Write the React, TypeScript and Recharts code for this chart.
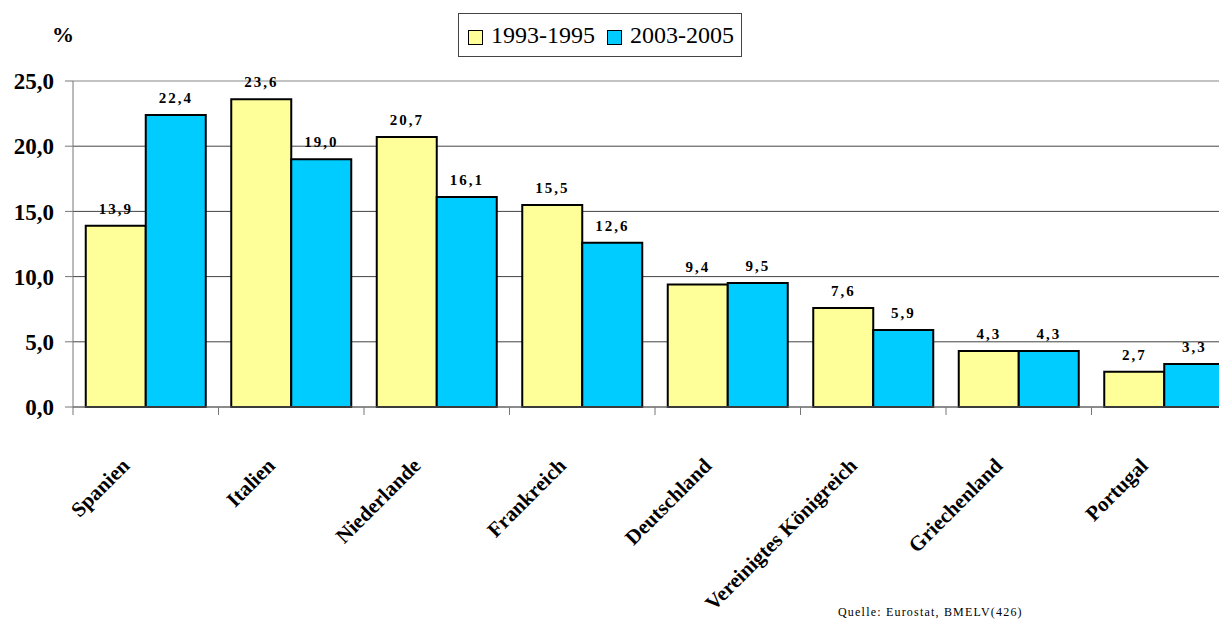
import React from 'react';
import {
  BarChart, Bar, XAxis, YAxis, CartesianGrid, LabelList, ReferenceLine,
} from 'recharts';

const countries = [
  'Spanien', 'Italien', 'Niederlande', 'Frankreich',
  'Deutschland', 'Vereinigtes Königreich', 'Griechenland', 'Portugal',
];
const values1993 = [13.9, 23.6, 20.7, 15.5, 9.4, 7.6, 4.3, 2.7];
const values2003 = [22.4, 19.0, 16.1, 12.6, 9.5, 5.9, 4.3, 3.3];
const yTicks = [0, 5, 10, 15, 20, 25];
const seriesNames = ['1993-1995', '2003-2005'];

const YELLOW = '#FFFF99';
const BLUE = '#00CCFF';
const FONT = '"Liberation Serif", "Times New Roman", serif';

const CHART_W = 1240;
const CHART_H = 619;
const PLOT_LEFT = 73;
const PLOT_RIGHT = 1237;
const BAND = (PLOT_RIGHT - PLOT_LEFT) / countries.length;

const data = countries.map((c, i) => ({ country: c, a: values1993[i], b: values2003[i] }));

const fmt = (v: number) => v.toFixed(1).replace('.', ',');

function CountryTick(props: any) {
  const { x, y, payload } = props;
  const left = x - BAND / 2;
  const tx = x - 15;
  const ty = y + 60;
  return (
    <g>
      <line x1={left} y1={y} x2={left} y2={y + 8} stroke="#777" strokeWidth={1} />
      <text
        x={tx}
        y={ty}
        textAnchor="end"
        transform={`rotate(-45 ${tx} ${ty})`}
        fontFamily={FONT}
        fontWeight="bold"
        fontSize={21}
        fill="#000"
      >
        {payload.value}
      </text>
    </g>
  );
}

function Swatch({ color }: { color: string }) {
  return (
    <span style={{
      display: 'inline-block', width: 13, height: 13, background: color,
      border: '1.5px solid #000', marginRight: 8, verticalAlign: 'middle',
    }} />
  );
}

export default function App() {
  return (
    <div style={{ position: 'absolute', left: 0, top: 0, width: 1219, height: 619, overflow: 'hidden', background: '#fff' }}>
      <BarChart
        width={CHART_W}
        height={CHART_H}
        data={data}
        margin={{ top: 81, right: CHART_W - PLOT_RIGHT, left: 0, bottom: 0 }}
        barCategoryGap={12.75}
        barGap={0}
      >
        <CartesianGrid vertical={false} stroke="#444" strokeWidth={1} />
        <ReferenceLine y={25} stroke="#e4e4e4" strokeWidth={1} />
        <XAxis
          dataKey="country"
          height={212}
          interval={0}
          tickLine={false}
          tickSize={0}
          tickMargin={0}
          axisLine={{ stroke: '#777', strokeWidth: 1 }}
          tick={<CountryTick />}
        />
        <YAxis
          width={PLOT_LEFT}
          domain={[0, 25]}
          ticks={yTicks}
          tickFormatter={fmt}
          tickSize={8}
          tickMargin={11}
          axisLine={{ stroke: '#777', strokeWidth: 1 }}
          tickLine={{ stroke: '#777' }}
          tick={{ fontFamily: FONT, fontWeight: 'bold', fontSize: 23, fill: '#000' }}
        />
        <Bar dataKey="a" name={seriesNames[0]} fill={YELLOW} stroke="#000" strokeWidth={2} isAnimationActive={false}>
          <LabelList
            dataKey="a"
            position="top"
            offset={12}
            formatter={(v: any) => fmt(Number(v))}
            style={{ fontFamily: FONT, fontWeight: 'bold', fontSize: 15, fill: '#000', letterSpacing: 2 }}
          />
        </Bar>
        <Bar dataKey="b" name={seriesNames[1]} fill={BLUE} stroke="#000" strokeWidth={2} isAnimationActive={false}>
          <LabelList
            dataKey="b"
            position="top"
            offset={12}
            formatter={(v: any) => fmt(Number(v))}
            style={{ fontFamily: FONT, fontWeight: 'bold', fontSize: 15, fill: '#000', letterSpacing: 2 }}
          />
        </Bar>
      </BarChart>

      <div style={{
        position: 'absolute', left: 52, top: 22, fontFamily: FONT, fontWeight: 'bold', fontSize: 22,
      }}>%</div>

      <div style={{
        position: 'absolute', left: 458, top: 13, width: 284, height: 44, border: '1px solid #444',
        fontFamily: FONT, fontSize: 24, lineHeight: '42px', paddingLeft: 9, boxSizing: 'border-box',
        whiteSpace: 'nowrap',
      }}>
        <Swatch color={YELLOW} />{seriesNames[0]}
        <span style={{ display: 'inline-block', width: 12 }} />
        <Swatch color={BLUE} />{seriesNames[1]}
      </div>

      <div style={{
        position: 'absolute', left: 838, top: 605, fontFamily: FONT, fontSize: 12, letterSpacing: 1.2,
        whiteSpace: 'nowrap',
      }}>Quelle: Eurostat, BMELV(426)</div>
    </div>
  );
}
